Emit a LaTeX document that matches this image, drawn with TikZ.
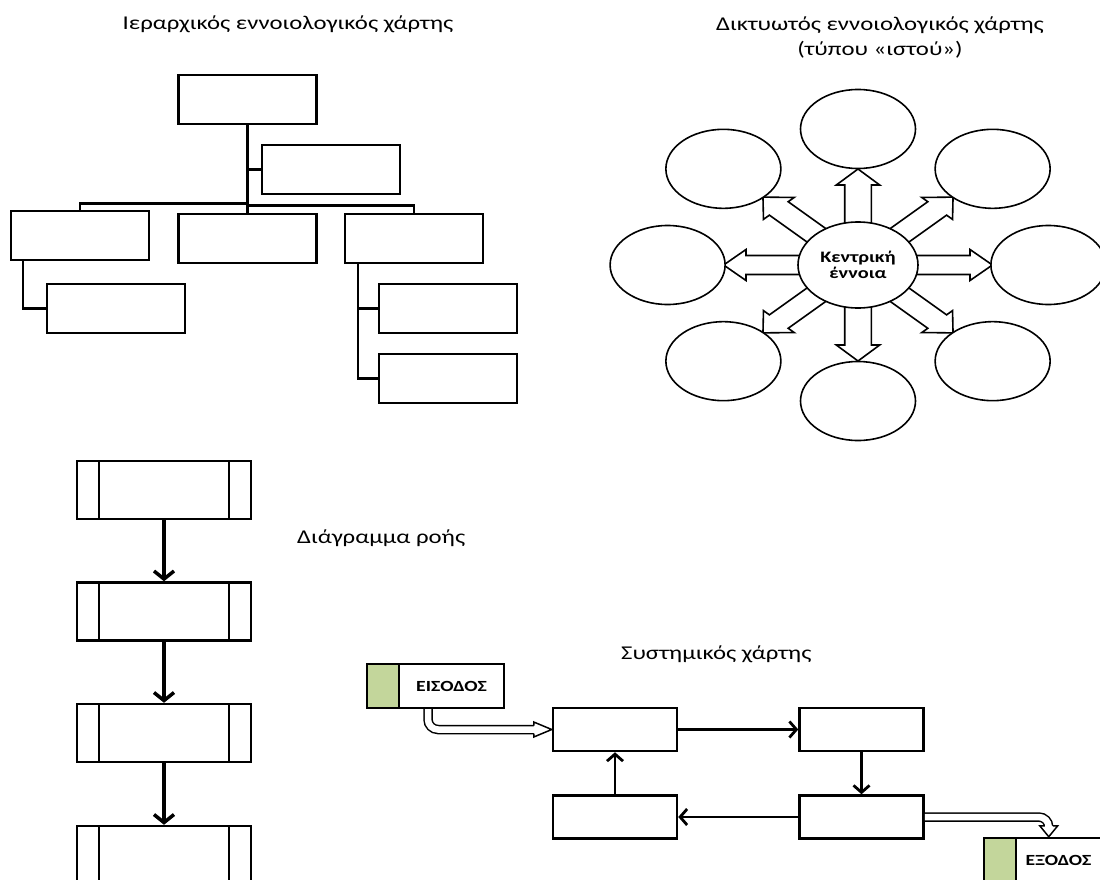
\documentclass[tikz,border=0pt]{standalone}
\usepackage{fontspec}
\setmainfont{Carlito}
\usepackage{graphicx}
\usetikzlibrary{shapes.geometric,arrows.meta,calc}
\newcommand{\sx}[1]{\scalebox{1.27}[1]{#1}}
\definecolor{lgreen}{HTML}{C3D69B}
\begin{document}
\begin{tikzpicture}[x=1pt,y=-1pt,
  ttl/.style={font=\fontsize{19.5}{25}\selectfont, inner sep=0pt},
  hbox/.style={draw, line width=2.5pt, minimum width=138pt, minimum height=49pt, inner sep=0pt},
  hline/.style={line width=2.5pt},
  fbox/.style={draw, line width=2.5pt, minimum width=174pt, minimum height=58pt, inner sep=0pt,
    path picture={
      \draw[line width=2.5pt] ([xshift=22pt]path picture bounding box.north west) -- ([xshift=22pt]path picture bounding box.south west);
      \draw[line width=2.5pt] ([xshift=-22pt]path picture bounding box.north east) -- ([xshift=-22pt]path picture bounding box.south east);}},
  farrow/.style={line width=3.5pt, -{Straight Barb[length=8pt,width=20pt]}},
  sbox/.style={draw, line width=2.5pt, minimum width=124pt, minimum height=43pt, inner sep=0pt},
  sarrow/.style={line width=2.8pt, -{Straight Barb[length=7pt,width=16pt]}},
  iobox/.style={draw, line width=2.5pt, minimum width=137pt, minimum height=44pt, inner sep=0pt,
    font=\bfseries\fontsize{15.5}{16}\selectfont,
    path picture={
      \fill[lgreen] (path picture bounding box.north west) rectangle ([xshift=32pt]path picture bounding box.south west);
      \draw[line width=2.5pt] ([xshift=32pt]path picture bounding box.north west) -- ([xshift=32pt]path picture bounding box.south west);}},
  hollow/.style={double=white, double distance=6.5pt, line width=1.5pt, rounded corners=10pt},
  hhead/.style={line width=1.5pt, fill=white, line join=miter},
  cnode/.style={ellipse, draw, line width=1.6pt, fill=white, minimum width=120pt, minimum height=86pt,
    inner sep=0pt, align=center, font=\bfseries\fontsize{16}{16}\selectfont},
  onode/.style={ellipse, draw, line width=1.6pt, fill=white, minimum width=115pt, minimum height=79pt, inner sep=0pt},
  warrow/.style={line width=1.6pt, fill=white, line join=miter}
]
\useasboundingbox (0,0) rectangle (1100,880);
\clip (0,0) rectangle (1100,880);

% ---------- titles ----------
\node[ttl, anchor=base] (t1) at (288,30) {\sx{Ιεραρχικός εννοιολογικός χάρτης}};
\node[ttl, align=center] (t2) at (880,37) {\sx{Δικτυωτός εννοιολογικός χάρτης}\\\sx{(τύπου «ιστού»)}};
\node[ttl, anchor=base west] (t3) at (297,543) {\sx{Διάγραμμα ροής}};
\node[ttl, anchor=base west] (t4) at (621,659) {\sx{Συστημικός χάρτης}};

% ---------- hierarchy ----------
\node[hbox] (top) at (247.5,99.5) {};
\node[hbox] (sec) at (331,169.5) {};
\node[hbox] (L) at (80,235.5) {};
\node[hbox] (M) at (247.5,238.5) {};
\node[hbox] (R) at (414,238.5) {};
\node[hbox] (LC) at (116,308.5) {};
\node[hbox] (RC1) at (448,308.5) {};
\node[hbox] (RC2) at (448,378.5) {};
\coordinate (jL) at ($(top.south)+(0,78)$);
\coordinate (jR) at ($(top.south)+(0,80)$);
\draw[hline] (top.south) -- (M.north);
\draw[hline] (top.south |- sec.west) -- (sec.west);
\draw[hline] (jL) -| (L.north);
\draw[hline] (jR) -| (R.north);
\draw[hline] ([xshift=13pt]L.south west) |- (LC.west);
\draw[hline] ([xshift=14pt]R.south west) |- (RC1.west);
\draw[hline] ([xshift=14pt]R.south west) |- (RC2.west);

% ---------- web ----------
\coordinate (cc) at (858,265);
\foreach \a in {0,45,...,315}{
  \begin{scope}[shift={(cc)}, xscale=1.4, rotate=\a]
    \draw[warrow] (30,-9.5) -- (80,-9.5) -- (80,-15.5) -- (96,0) -- (80,15.5) -- (80,9.5) -- (30,9.5) -- cycle;
  \end{scope}
}
\node[cnode] (c) at (cc) {\sx{Κεντρική}\\\sx{έννοια}};
\foreach \a in {0,45,...,315}{
  \node[onode] (w\a) at ($(cc)+({1.4*136*cos(\a)},{-136*sin(\a)})$) {};
}

% ---------- flowchart ----------
\node[fbox] (f1) at (164,490) {};
\node[fbox] (f2) at (164,611.5) {};
\node[fbox] (f3) at (164,733) {};
\node[fbox] (f4) at (164,855) {};
\draw[farrow] (f1.south) -- (f2.north);
\draw[farrow] (f2.south) -- (f3.north);
\draw[farrow] (f3.south) -- (f4.north);

% ---------- system map ----------
\node[sbox] (s1) at (615,729.5) {};
\node[sbox] (s2) at (861.5,729.5) {};
\node[sbox] (s3) at (861.5,817) {};
\node[sbox] (s4) at (615,817) {};
\draw[sarrow] (s1.east) -- (s2.west);
\draw[sarrow] (s2.south) -- (s3.north);
\draw[sarrow] (s3.west) -- (s4.east);
\draw[sarrow] (s4.north) -- (s1.south);

% input / output
\coordinate (i1) at (428,708);
\draw[hollow] (i1) |- ($(s1.west)+(-18,0)$);
\draw[hhead] ($(s1.west)+(-18,-4)$) -- ($(s1.west)+(-18,-7.5)$) -- (s1.west) -- ($(s1.west)+(-18,7.5)$) -- ($(s1.west)+(-18,4)$);
\node[iobox] (in) at (435.5,686) {\hspace*{32pt}\sx{ΕΙΣΟΔΟΣ}};

\node[iobox] (out) at (1052.5,860) {\hspace*{12pt}\sx{ΕΞΟΔΟΣ}};
\coordinate (o2) at ($(out.north west)+(66,0)$);
\draw[hollow] (s3.east) -| ($(o2)+(0,-11)$);
\draw[hhead] ($(o2)+(-4,-11)$) -- ($(o2)+(-9,-11)$) -- (o2) -- ($(o2)+(9,-11)$) -- ($(o2)+(4,-11)$);
\end{tikzpicture}
\end{document}
